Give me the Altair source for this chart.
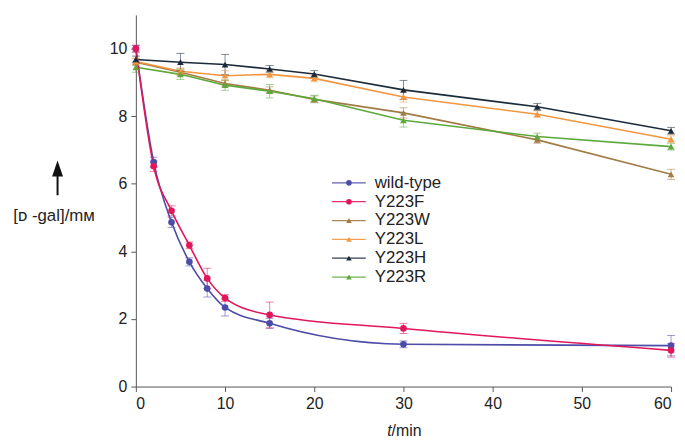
import altair as alt
import pandas as pd

series = ["wild-type", "Y223F", "Y223W", "Y223L", "Y223H", "Y223R"]
colors = ["#4d4ca8", "#e2175b", "#a27b45", "#f39640", "#1c2b3a", "#5ca93c"]
shapes = ["circle", "circle", "triangle-up", "triangle-up", "triangle-up", "triangle-up"]

t_fast = [0, 2, 4, 6, 8, 10, 15, 30, 60]
t_slow = [0, 5, 10, 15, 20, 30, 45, 60]

wt_v = [10.0, 6.64, 4.86, 3.69, 2.90, 2.34, 1.87, 1.25, 1.21]
wt_e = [0.10, 0.15, 0.15, 0.12, 0.25, 0.25, 0.15, 0.10, 0.30]
f_v = [10.0, 6.52, 5.20, 4.18, 3.20, 2.62, 2.12, 1.72, 1.07]
f_e = [0.10, 0.15, 0.15, 0.10, 0.30, 0.10, 0.38, 0.15, 0.20]
w_v = [9.60, 9.30, 8.97, 8.77, 8.50, 8.10, 7.30, 6.28]
w_e = [0.10, 0.10, 0.10, 0.10, 0.10, 0.15, 0.10, 0.15]
l_v = [9.62, 9.33, 9.20, 9.24, 9.12, 8.57, 8.06, 7.32]
l_e = [0.10, 0.10, 0.15, 0.10, 0.10, 0.15, 0.10, 0.10]
h_v = [9.68, 9.60, 9.53, 9.40, 9.25, 8.78, 8.28, 7.57]
h_e = [0.10, 0.26, 0.30, 0.10, 0.10, 0.28, 0.10, 0.10]
r_v = [9.45, 9.24, 8.92, 8.74, 8.52, 7.88, 7.40, 7.10]
r_e = [0.15, 0.15, 0.15, 0.20, 0.10, 0.20, 0.10, 0.10]

rows = []
for name, ts, vs, es in [
    ("wild-type", t_fast, wt_v, wt_e),
    ("Y223F", t_fast, f_v, f_e),
    ("Y223W", t_slow, w_v, w_e),
    ("Y223L", t_slow, l_v, l_e),
    ("Y223H", t_slow, h_v, h_e),
    ("Y223R", t_slow, r_v, r_e),
]:
    for t, v, e in zip(ts, vs, es):
        rows.append({"series": name, "t": t, "v": v, "lo": v - e, "hi": v + e})
df = pd.DataFrame(rows)

FONT = "Liberation Sans, Arial, DejaVu Sans"

x = alt.X("t:Q", scale=alt.Scale(domain=[0, 60], nice=False),
          axis=alt.Axis(values=[0, 10, 20, 30, 40, 50, 60], title=None))
y = alt.Y("v:Q", scale=alt.Scale(domain=[0, 11], nice=False),
          axis=alt.Axis(values=[0, 2, 4, 6, 8, 10], title="[ᴅ -gal]/mᴍ",
                        titleAngle=0, titleX=-83, titleY=202, titleAlign="center",
                        titleBaseline="middle", titleFontWeight="normal",
                        titleFontSize=17, titleFont=FONT, titleColor="#222"))
color = alt.Color("series:N", scale=alt.Scale(domain=series, range=colors), legend=None)
shape = alt.Shape("series:N", scale=alt.Scale(domain=series, range=shapes), legend=None)

base = alt.Chart(df)
fast = base.transform_filter(alt.FieldOneOfPredicate(field="series", oneOf=series[:2]))
slow = base.transform_filter(alt.FieldOneOfPredicate(field="series", oneOf=series[2:]))

err = base.mark_rule(strokeWidth=1, opacity=0.55).encode(x=x, y=alt.Y("lo:Q"), y2="hi:Q", color=color)
cap_hi = base.mark_tick(orient="horizontal", size=8, thickness=1, opacity=0.55).encode(x="t:Q", y=alt.Y("hi:Q"), color=color)
cap_lo = base.mark_tick(orient="horizontal", size=8, thickness=1, opacity=0.55).encode(x="t:Q", y=alt.Y("lo:Q"), color=color)
line_slow = slow.mark_line(strokeWidth=1.6).encode(x=x, y=y, color=color, detail="series:N")
line_fast = fast.mark_line(strokeWidth=1.6, interpolate="monotone").encode(x=x, y=y, color=color, detail="series:N")
pts = base.mark_point(filled=True, size=45, opacity=1).encode(x=x, y=y, color=color, shape=shape)

main = alt.layer(line_slow, line_fast, err, cap_hi, cap_lo, pts)

leg_df = pd.DataFrame({"series": series})
ly = alt.Y("series:N", scale=alt.Scale(domain=series, range=[160, 274], padding=0), axis=None)
leg_base = alt.Chart(leg_df)
leg_rule = leg_base.mark_rule(strokeWidth=1.3, opacity=0.9).encode(x=alt.value(198), x2=alt.value(232), y=ly, color=color)
leg_pt = leg_base.mark_point(filled=True, size=32, opacity=1).encode(x=alt.value(215), y=ly, color=color, shape=shape)
leg_txt = leg_base.mark_text(align="left", baseline="middle", fontSize=17, font=FONT, color="#222").encode(
    x=alt.value(241), y=ly, text="series:N")
legend = alt.layer(leg_rule, leg_pt, leg_txt)

one = alt.Data(values=[{}])
arrow_shaft = alt.Chart(one).mark_rule(strokeWidth=2, color="#111").encode(
    x=alt.value(-79), y=alt.value(158), y2=alt.value(182))
arrow_head = alt.Chart(one).mark_point(shape="M0,-0.8L0.55,0.8L-0.55,0.8Z", filled=True, size=400,
                                       color="#111", opacity=1).encode(x=alt.value(-79), y=alt.value(155))
xt_t = alt.Chart(one).mark_text(text="t", fontStyle="italic", fontSize=16, font=FONT, align="right",
                                baseline="alphabetic", color="#222").encode(x=alt.value(258), y=alt.value(425))
xt_m = alt.Chart(one).mark_text(text="/min", fontSize=16, font=FONT, align="left",
                                baseline="alphabetic", color="#222").encode(x=alt.value(258), y=alt.value(425))

chart = alt.layer(main, legend, arrow_shaft, arrow_head, xt_t, xt_m).resolve_scale(y="independent").properties(
    width=540, height=375,
    autosize=alt.AutoSizeParams(type="none"),
    padding={"left": 129, "top": 5, "right": 6, "bottom": 52},
).configure_view(stroke=None).configure_axis(
    grid=False, domainColor="#555", tickColor="#555", tickSize=5, labelFontSize=16,
    labelFont=FONT, labelColor="#222", labelPadding=4,
)

chart.save("out.html", embed_options={"renderer": "svg", "actions": False})
